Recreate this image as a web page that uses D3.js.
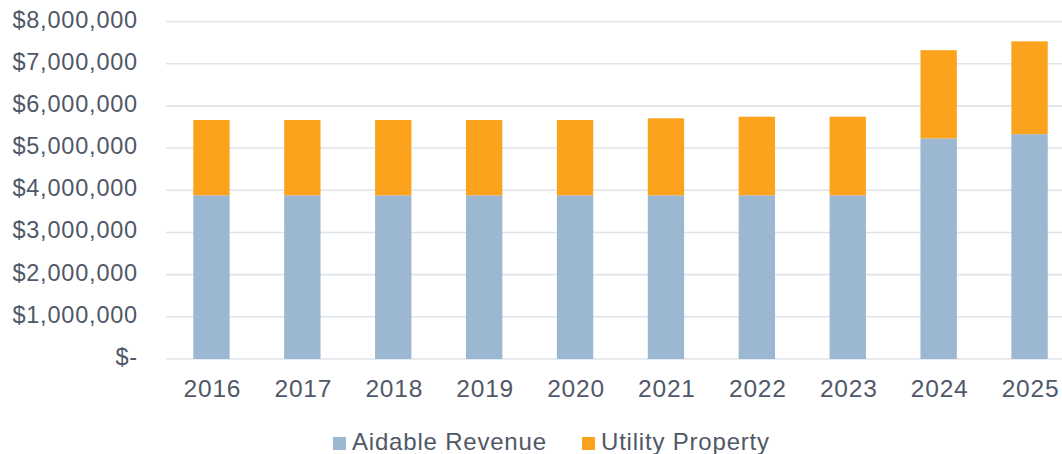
<!DOCTYPE html>
<html>
<head>
<meta charset="utf-8">
<script src="https://cdn.jsdelivr.net/npm/d3@7"></script>
<style>
  html, body { margin: 0; padding: 0; background: #fff; }
  svg { display: block; }
  text { font-family: "Liberation Sans", Arial, sans-serif; fill: #505867; }
</style>
</head>
<body>
<svg id="chart" width="1062" height="454"></svg>
<script>
const years = ["2016","2017","2018","2019","2020","2021","2022","2023","2024","2025"];
const aidableRevenue = [3880000,3880000,3880000,3880000,3880000,3880000,3880000,3880000,5230000,5330000];
const utilityProperty = [1785000,1785000,1785000,1785000,1785000,1825000,1863000,1863000,2090000,2200000];
const yTicks = [0,1000000,2000000,3000000,4000000,5000000,6000000,7000000,8000000];
const seriesNames = ["Aidable Revenue","Utility Property"];
const seriesColors = ["#9bb7d2","#fca31d"];

const svg = d3.select("#chart");
const y = d3.scaleLinear().domain([0, 8000000]).range([359, 21.5]);
const x = d3.scaleBand().domain(years).range([166, 1075]).paddingInner(0.6).paddingOuter(0.3);

const fmt = v => v === 0 ? "$-" : "$" + d3.format(",")(v);

// gridlines
svg.append("g").selectAll("line").data(yTicks).join("line")
  .attr("x1", 166).attr("x2", 1062)
  .attr("y1", d => y(d)).attr("y2", d => y(d))
  .attr("stroke", "#dfe3ea").attr("stroke-width", 1.6);

// y labels
svg.append("g").selectAll("text").data(yTicks).join("text")
  .attr("x", 138).attr("y", d => y(d) + 6)
  .attr("text-anchor", "end")
  .style("font-size", "23.5px").style("letter-spacing", "0.8px")
  .text(fmt);

// stacked data
const rows = years.map((yr, i) => ({ year: yr, a: aidableRevenue[i], u: utilityProperty[i] }));
const stack = d3.stack().keys(["a","u"])(rows);

svg.append("g").selectAll("g").data(stack).join("g")
  .attr("fill", (d, i) => seriesColors[i])
  .selectAll("rect").data(d => d).join("rect")
  .attr("x", d => x(d.data.year))
  .attr("width", x.bandwidth())
  .attr("y", d => y(d[1]))
  .attr("height", d => y(d[0]) - y(d[1]));

// x labels
svg.append("g").selectAll("text").data(years).join("text")
  .attr("x", d => x(d) + x.bandwidth() / 2 + 1)
  .attr("y", 397)
  .attr("text-anchor", "middle")
  .style("font-size", "24.5px").style("letter-spacing", "0.8px")
  .text(d => d);

// legend
const legendX = [333, 582];
const lg = svg.append("g");
seriesNames.forEach((name, i) => {
  lg.append("rect").attr("x", legendX[i]).attr("y", 437).attr("width", 13).attr("height", 13)
    .attr("fill", seriesColors[i]);
  lg.append("text").attr("x", legendX[i] + 19).attr("y", 450)
    .style("font-size", "24px").style("letter-spacing", "0.8px")
    .text(name);
});
</script>
</body>
</html>
